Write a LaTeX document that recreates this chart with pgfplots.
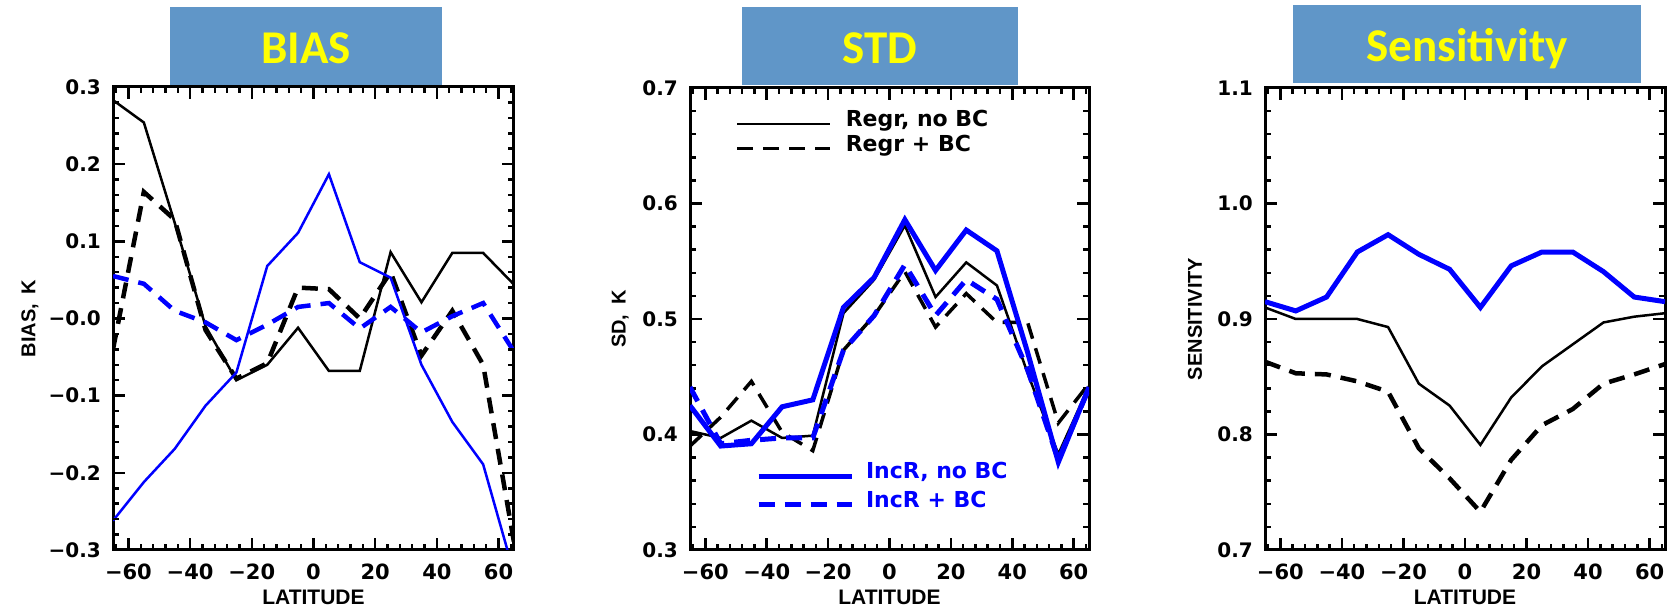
\documentclass[border=0pt]{standalone}
\usepackage{fontspec}
\setmainfont{Liberation Sans}
\newfontfamily\djv{DejaVu Sans}
\newfontfamily\carlito{Carlito}
\usepackage{pgfplots}
\pgfplotsset{compat=1.18}
\definecolor{boxblue}{RGB}{96,150,200}
\definecolor{ttlyellow}{RGB}{255,255,0}

\pgfplotstableread{
lat  rnb     rbc     inb     ibc
-65  0.283  -0.040  -0.262   0.055
-55  0.254   0.164  -0.212   0.045
-45  0.124   0.128  -0.169   0.010
-35 -0.010  -0.015  -0.113  -0.005
-25 -0.080  -0.078  -0.070  -0.028
-15 -0.060  -0.058   0.068  -0.008
-5  -0.012   0.040   0.111   0.015
5   -0.068   0.038   0.187   0.020
15  -0.068   0.000   0.073  -0.013
25   0.086   0.060   0.053   0.015
35   0.021  -0.048  -0.060  -0.018
45   0.085   0.010  -0.134   0.003
55   0.085  -0.060  -0.189   0.020
65   0.044  -0.290  -0.330  -0.043
}\biastab

\pgfplotstableread{
lat  rnb    rbc    inb    ibc
-65  0.403  0.390  0.425  0.441
-55  0.397  0.415  0.390  0.392
-45  0.412  0.446  0.392  0.395
-35  0.397  0.402  0.424  0.397
-25  0.399  0.386  0.430  0.397
-15  0.505  0.473  0.510  0.473
-5   0.534  0.503  0.536  0.503
5    0.581  0.541  0.586  0.547
15   0.519  0.493  0.542  0.503
25   0.549  0.522  0.577  0.534
35   0.529  0.497  0.559  0.517
45   0.453  0.497  0.471  0.456
55   0.383  0.410  0.376  0.378
65   0.442  0.444  0.441  0.440
}\stdtab

\pgfplotstableread{
lat  rnb    rbc    inb
-65  0.910  0.863  0.915
-55  0.900  0.853  0.907
-45  0.900  0.852  0.919
-35  0.900  0.846  0.958
-25  0.893  0.837  0.973
-15  0.844  0.788  0.956
-5   0.825  0.762  0.943
5    0.791  0.733  0.910
15   0.832  0.778  0.946
25   0.859  0.808  0.958
35   0.878  0.822  0.958
45   0.897  0.844  0.941
55   0.902  0.852  0.919
65   0.905  0.861  0.915
}\senstab

\pgfplotsset{
  idl/.style={
    scale only axis, width=400pt, height=462pt,
    anchor=south west,
    xmin=-65, xmax=65,
    xtick={-60,-40,-20,0,20,40,60},
    xticklabels={−60,−40,−20,0,20,40,60},
    minor x tick num=4,
    minor y tick num=4,
    tick align=inside,
    major tick length=12pt, minor tick length=6pt,
    every tick/.append style={black, line width=2.5pt},
    axis line style={line width=3pt},
    xticklabel style={font=\djv\bfseries\fontsize{21}{21}\selectfont, inner sep=0pt, yshift=-14pt},
    yticklabel style={font=\djv\bfseries\fontsize{20}{20}\selectfont, inner sep=0pt, xshift=-12pt},
    xlabel={LATITUDE},
    xlabel style={font=\bfseries\fontsize{21}{21}\selectfont, at={(axis description cs:0.5,-0.102)}, anchor=center},
    ylabel style={font=\bfseries\fontsize{20}{20}\selectfont, anchor=center},
    legend image code/.code={\draw[##1] (0pt,0pt) -- (93pt,0pt);},
  },
  bks/.style={black, line width=2.5pt},
  bkd/.style={black, line width=4.5pt, dash pattern=on 16pt off 10pt},
  bls/.style={blue, line width=#1},
  bld/.style={blue, line width=4.5pt, dash pattern=on 16pt off 10pt},
}
\tikzset{tk/.style={black, line width=2.5pt}}

\begin{document}
\begin{tikzpicture}
\path (0pt,0pt) rectangle (1673pt,609pt);

% title boxes
\fill[boxblue] (170pt,524pt) rectangle (442pt,602pt);
\node[anchor=base, text=ttlyellow, inner sep=0pt, font=\carlito\bfseries\fontsize{47}{47}\selectfont] at (306pt,545pt) {BIAS};
\fill[boxblue] (742pt,524pt) rectangle (1018pt,602pt);
\node[anchor=base, text=ttlyellow, inner sep=0pt, font=\carlito\bfseries\fontsize{47}{47}\selectfont] at (880pt,545pt) {STD};
\fill[boxblue] (1293pt,526pt) rectangle (1641pt,604pt);
\node[anchor=base, text=ttlyellow, inner sep=0pt, font=\carlito\bfseries\fontsize{47}{47}\selectfont] at (1467pt,547pt) {Sensitivity};

% ---------------- BIAS ----------------
\begin{axis}[idl, at={(113pt,59pt)}, width=401pt, height=463pt,
  ymin=-0.3, ymax=0.3,
  ytick={-0.3,-0.2,-0.1,0,0.1,0.2,0.3},
  yticklabels={−0.3,−0.2,−0.1,−0.0,0.1,0.2,0.3},
  ylabel={BIAS,\hspace{0.5em}K},
  ylabel style={at={(axis description cs:-0.207,0.5)}},
]
\addplot[bks] table[x=lat,y=rnb] {\biastab};
\addplot[bkd] table[x=lat,y=rbc] {\biastab};
\addplot[bls=2.5pt] table[x=lat,y=inb] {\biastab};
\addplot[bld] table[x=lat,y=ibc] {\biastab};
\pgfplotsinvokeforeach{-60,-40,-20,0,20,40,60}{
  \draw[tk] (axis cs:#1,-0.3) -- ++(0pt,12pt);
  \draw[tk] (axis cs:#1,0.3) -- ++(0pt,-12pt);}
\pgfplotsinvokeforeach{-64,-56,-52,-48,-44,-36,-32,-28,-24,-16,-12,-8,-4,4,8,12,16,24,28,32,36,44,48,52,56,64}{
  \draw[tk] (axis cs:#1,-0.3) -- ++(0pt,6pt);
  \draw[tk] (axis cs:#1,0.3) -- ++(0pt,-6pt);}
\pgfplotsinvokeforeach{-0.2,-0.1,0,0.1,0.2}{
  \draw[tk] (axis cs:-65,#1) -- ++(12pt,0pt);
  \draw[tk] (axis cs:65,#1) -- ++(-12pt,0pt);}
\pgfplotsinvokeforeach{-0.28,-0.26,-0.24,-0.22,-0.18,-0.16,-0.14,-0.12,-0.08,-0.06,-0.04,-0.02,0.02,0.04,0.06,0.08,0.12,0.14,0.16,0.18,0.22,0.24,0.26,0.28}{
  \draw[tk] (axis cs:-65,#1) -- ++(6pt,0pt);
  \draw[tk] (axis cs:65,#1) -- ++(-6pt,0pt);}
\end{axis}

% ---------------- STD ----------------
\begin{axis}[idl, at={(690pt,59pt)}, width=399pt,
  ymin=0.3, ymax=0.7,
  ytick={0.3,0.4,0.5,0.6,0.7},
  yticklabels={0.3,0.4,0.5,0.6,0.7},
  ylabel={SD,\hspace{0.5em}K},
  ylabel style={at={(axis description cs:-0.175,0.5)}},
  legend style={draw=none, fill=none, inner sep=0pt,
    at={(0.113,0.933)}, anchor=north west,
    nodes={inner sep=0pt, text height=0.73em, text depth=0.24em},
    column sep=14pt, row sep=15pt,
    font=\djv\bfseries\fontsize{22}{22}\selectfont},
  legend cell align=left,
]
\addplot[bks] table[x=lat,y=rnb] {\stdtab};
\addplot[black, line width=3.5pt, dash pattern=on 16pt off 10pt] table[x=lat,y=rbc] {\stdtab};
\legend{{Regr, no BC},{Regr + BC}}
\pgfplotsinvokeforeach{-60,-40,-20,0,20,40,60}{
  \draw[tk] (axis cs:#1,0.3) -- ++(0pt,12pt);
  \draw[tk] (axis cs:#1,0.7) -- ++(0pt,-12pt);}
\pgfplotsinvokeforeach{-64,-56,-52,-48,-44,-36,-32,-28,-24,-16,-12,-8,-4,4,8,12,16,24,28,32,36,44,48,52,56,64}{
  \draw[tk] (axis cs:#1,0.3) -- ++(0pt,6pt);
  \draw[tk] (axis cs:#1,0.7) -- ++(0pt,-6pt);}
\pgfplotsinvokeforeach{0.4,0.5,0.6}{
  \draw[tk] (axis cs:-65,#1) -- ++(12pt,0pt);
  \draw[tk] (axis cs:65,#1) -- ++(-12pt,0pt);}
\pgfplotsinvokeforeach{0.32,0.34,0.36,0.38,0.42,0.44,0.46,0.48,0.52,0.54,0.56,0.58,0.62,0.64,0.66,0.68}{
  \draw[tk] (axis cs:-65,#1) -- ++(6pt,0pt);
  \draw[tk] (axis cs:65,#1) -- ++(-6pt,0pt);}
\end{axis}
\begin{axis}[idl, at={(690pt,59pt)}, width=399pt, hide axis,
  ymin=0.3, ymax=0.7,
  legend style={draw=none, fill=none, inner sep=0pt,
    at={(0.165,0.171)}, anchor=north west,
    nodes={inner sep=0pt, text height=0.73em, text depth=0.24em, text=blue},
    column sep=12pt, row sep=19pt,
    font=\djv\bfseries\fontsize{22}{22}\selectfont},
  legend cell align=left,
]
\addplot[bls=5pt] table[x=lat,y=inb] {\stdtab};
\addplot[blue, line width=5pt, dash pattern=on 16pt off 10pt] table[x=lat,y=ibc] {\stdtab};
\legend{{IncR, no BC},{IncR + BC}}
\end{axis}

% ---------------- Sensitivity ----------------
\begin{axis}[idl, at={(1265pt,59pt)}, width=400pt,
  ymin=0.7, ymax=1.1,
  ytick={0.7,0.8,0.9,1.0,1.1},
  yticklabels={0.7,0.8,0.9,1.0,1.1},
  ylabel={SENSITIVITY},
  ylabel style={at={(axis description cs:-0.175,0.5)}, font=\bfseries\fontsize{20}{20}\selectfont},
]
\addplot[bls=5pt] table[x=lat,y=inb] {\senstab};
\addplot[bks] table[x=lat,y=rnb] {\senstab};
\addplot[bkd] table[x=lat,y=rbc] {\senstab};
\pgfplotsinvokeforeach{-60,-40,-20,0,20,40,60}{
  \draw[tk] (axis cs:#1,0.7) -- ++(0pt,12pt);
  \draw[tk] (axis cs:#1,1.1) -- ++(0pt,-12pt);}
\pgfplotsinvokeforeach{-64,-56,-52,-48,-44,-36,-32,-28,-24,-16,-12,-8,-4,4,8,12,16,24,28,32,36,44,48,52,56,64}{
  \draw[tk] (axis cs:#1,0.7) -- ++(0pt,6pt);
  \draw[tk] (axis cs:#1,1.1) -- ++(0pt,-6pt);}
\pgfplotsinvokeforeach{0.8,0.9,1.0}{
  \draw[tk] (axis cs:-65,#1) -- ++(12pt,0pt);
  \draw[tk] (axis cs:65,#1) -- ++(-12pt,0pt);}
\pgfplotsinvokeforeach{0.72,0.74,0.76,0.78,0.82,0.84,0.86,0.88,0.92,0.94,0.96,0.98,1.02,1.04,1.06,1.08}{
  \draw[tk] (axis cs:-65,#1) -- ++(6pt,0pt);
  \draw[tk] (axis cs:65,#1) -- ++(-6pt,0pt);}
\end{axis}
\end{tikzpicture}
\end{document}
